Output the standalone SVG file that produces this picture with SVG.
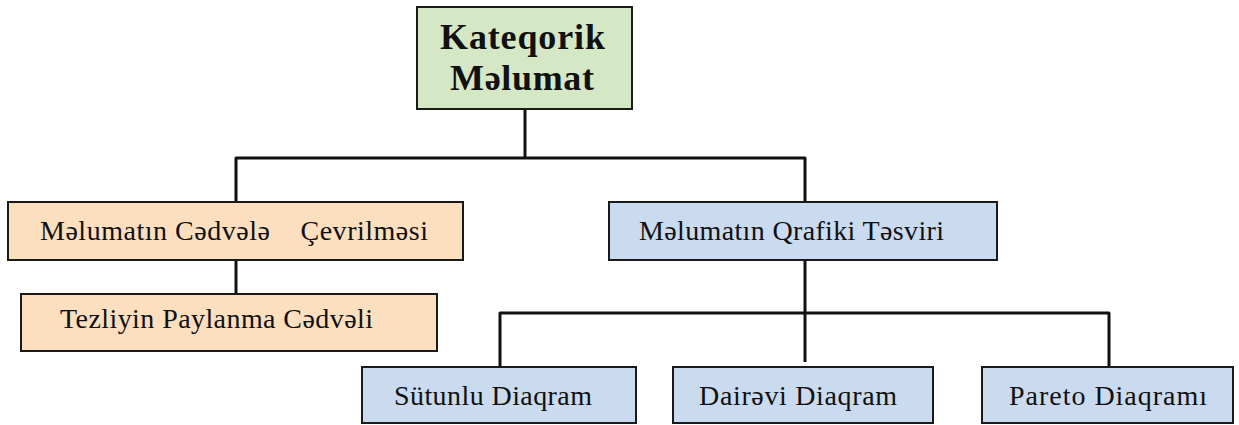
<svg xmlns="http://www.w3.org/2000/svg" width="1239" height="425" viewBox="0 0 1239 425">
  <style>
    .box { stroke: #1a1a1a; stroke-width: 2; }
    .root { fill: #d5e8c6; }
    .table { fill: #fcdfbf; }
    .chart { fill: #cbdbef; }
    .lbl { font-family: "Liberation Serif", "Times New Roman", serif; font-size: 28px; fill: #111; }
    .title { font-family: "Liberation Serif", "Times New Roman", serif; font-size: 36px; font-weight: bold; fill: #111; }
    .wire { fill: none; stroke: #111; stroke-width: 3; stroke-linejoin: round; }
  </style>
  <rect width="1239" height="425" fill="#ffffff"/>

  <!-- connectors -->
  <g id="connectors">
    <path class="wire" d="M525 109 V158"/>
    <path class="wire" d="M236 202 V158 H805 V202"/>
    <path class="wire" d="M236 260 V294"/>
    <path class="wire" d="M805 260 V362"/>
    <path class="wire" d="M500 367 V313 H1109 V367"/>
  </g>

  <g id="node-kateqorik">
    <rect class="box root" x="417" y="7" width="215" height="102"/>
    <text class="title" x="440" y="49" textLength="165" lengthAdjust="spacing">Kateqorik</text>
    <text class="title" x="450" y="90" textLength="144" lengthAdjust="spacing">Məlumat</text>
  </g>

  <g id="node-cedvel">
    <rect class="box table" x="8" y="202" width="455" height="58"/>
    <text class="lbl" x="40" y="240" textLength="388" lengthAdjust="spacing" xml:space="preserve">Məlumatın Cədvələ    Çevrilməsi</text>
  </g>

  <g id="node-tezlik">
    <rect class="box table" x="21" y="294" width="416" height="57"/>
    <text class="lbl" x="60" y="328" textLength="313" lengthAdjust="spacing">Tezliyin Paylanma Cədvəli</text>
  </g>

  <g id="node-qrafik">
    <rect class="box chart" x="609" y="202" width="388" height="58"/>
    <text class="lbl" x="639" y="240" textLength="305" lengthAdjust="spacing">Məlumatın Qrafiki Təsviri</text>
  </g>

  <g id="node-sutunlu">
    <rect class="box chart" x="362" y="367" width="274" height="56"/>
    <text class="lbl" x="394" y="405" textLength="198" lengthAdjust="spacing">Sütunlu Diaqram</text>
  </g>

  <g id="node-dairevi">
    <rect class="box chart" x="673" y="367" width="260" height="56"/>
    <text class="lbl" x="699" y="405" textLength="198" lengthAdjust="spacing">Dairəvi Diaqram</text>
  </g>

  <g id="node-pareto">
    <rect class="box chart" x="982" y="367" width="251" height="56"/>
    <text class="lbl" x="1009" y="405" textLength="198" lengthAdjust="spacing">Pareto Diaqramı</text>
  </g>
</svg>
